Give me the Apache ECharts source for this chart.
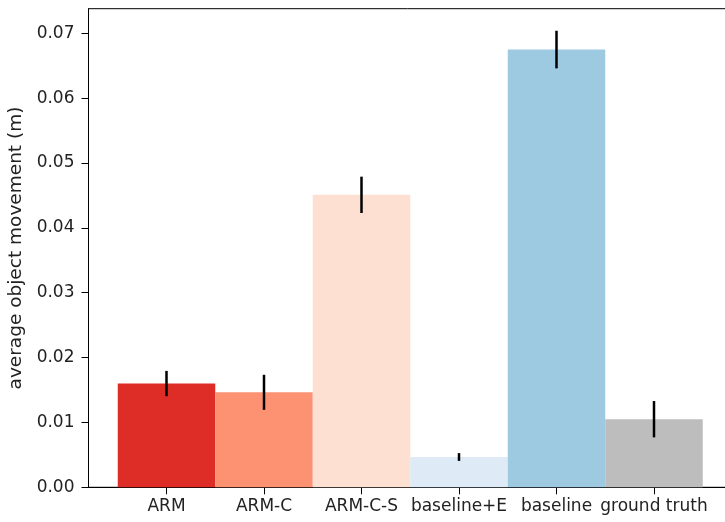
<!DOCTYPE html>
<html><head><meta charset="utf-8">
<script src="https://cdn.jsdelivr.net/npm/echarts@6/dist/echarts.min.js"></script>
<style>html,body{margin:0;padding:0;background:#fff}#c{width:725px;height:522px}</style>
</head><body><div id="c"></div>
<script>
const categories = ['ARM', 'ARM-C', 'ARM-C-S', 'baseline+E', 'baseline', 'ground truth'];
const values = [0.0160, 0.01465, 0.0451, 0.00467, 0.0675, 0.0105];
const errors = [0.00195, 0.0027, 0.0028, 0.0006, 0.0029, 0.0028];
const colors = ['#de2d26', '#fc9272', '#fee0d2', '#deebf7', '#9ecae1', '#bdbdbd'];
const yTicks = [0, 0.01, 0.02, 0.03, 0.04, 0.05, 0.06, 0.07];

const data = categories.map((c, i) => [i, values[i], errors[i]]);
const font = 'DejaVu Sans';
const chart = echarts.init(document.getElementById('c'));
chart.setOption({
  animation: false,
  grid: { left: 88.5, width: 643.5, top: 8.7, height: 478.6, outerBoundsMode: 'none', containLabel: false, show: true, borderColor: '#000', borderWidth: 1, backgroundColor: 'transparent' },
  xAxis: {
    type: 'value', min: -0.8, max: 5.8,
    splitLine: { show: false },
    axisLine: { show: true, onZero: false, lineStyle: { color: '#000', width: 1 } },
    axisTick: { show: true, length: 7, lineStyle: { color: '#000' }, customValues: [0,1,2,3,4,5] },
    axisLabel: { customValues: [0,1,2,3,4,5], formatter: v => categories[Math.round(v)], color: '#222', fontFamily: font, fontSize: 17, margin: 11 }
  },
  yAxis: {
    type: 'value', min: 0, max: 0.0738, interval: 0.01,
    splitLine: { show: false },
    axisLine: { show: true, onZero: false, lineStyle: { color: '#000', width: 1 } },
    axisTick: { show: true, length: 7, lineStyle: { color: '#000' }, customValues: yTicks },
    axisLabel: { customValues: yTicks, formatter: v => v.toFixed(2), color: '#222', fontFamily: font, fontSize: 17, margin: 14 },
    name: 'average object movement (m)', nameLocation: 'middle', nameGap: 59, nameRotate: 90,
    nameTextStyle: { color: '#222', fontFamily: font, fontSize: 18.5 }
  },
  series: [{
    type: 'custom',
    data: data,
    encode: { x: 0, y: 1 },
    renderItem: function (params, api) {
      const i = api.value(0), v = api.value(1), e = api.value(2);
      const p0 = api.coord([i - 0.5, v]);
      const p1 = api.coord([i + 0.5, 0]);
      const et = api.coord([i, v + e]);
      const eb = api.coord([i, v - e]);
      return {
        type: 'group',
        children: [
          { type: 'rect', shape: { x: p0[0], y: p0[1], width: p1[0] - p0[0], height: p1[1] - p0[1] }, style: { fill: colors[i] } },
          { type: 'line', shape: { x1: et[0], y1: et[1], x2: eb[0], y2: eb[1] }, style: { stroke: '#000', lineWidth: 2.5 } }
        ]
      };
    }
  }]
});
</script></body></html>
